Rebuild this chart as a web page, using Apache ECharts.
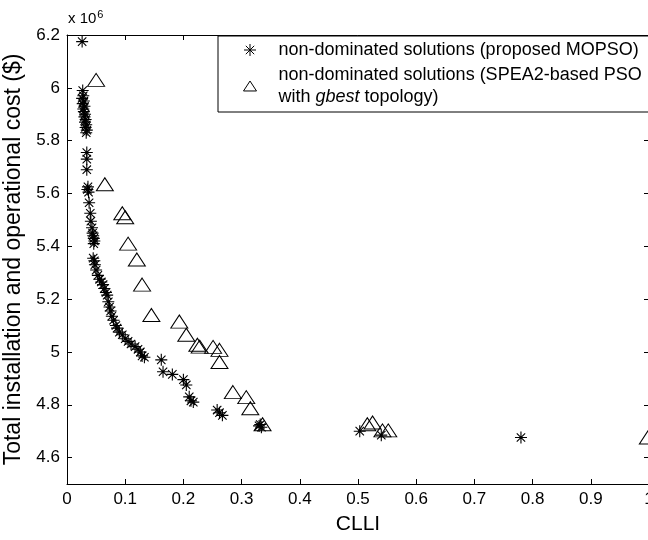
<!DOCTYPE html>
<html>
<head>
<meta charset="utf-8">
<script src="https://cdn.jsdelivr.net/npm/echarts@6/dist/echarts.min.js"></script>
<style>
html,body{margin:0;padding:0;background:#fff;overflow:hidden;}
#chart{width:648px;height:540px;}
</style>
</head>
<body>
<div id="chart"></div>
<script>
// CLLI vs total cost (cost in units of 10^6 $)
var mopsoCLLI = [0.026,0.027,0.028,0.026,0.029,0.027,0.030,0.028,0.029,0.031,0.030,0.032,0.031,0.033,0.032,0.034,0.033,
  0.034,0.034,0.034,0.036,0.035,0.037,0.038,0.040,0.041,0.043,0.044,0.045,0.046,0.047,0.046,
  0.045,0.047,0.048,0.050,0.053,0.056,0.059,0.062,0.064,0.067,0.069,0.071,0.073,0.075,0.077,0.080,0.084,0.086,0.090,0.095,0.100,0.105,0.110,0.117,0.122,0.126,0.129,0.133,
  0.162,0.165,0.181,0.200,0.205,0.210,0.213,0.217,0.258,0.262,0.267,0.332,0.334,0.330,0.503,0.540,0.780];
var mopsoCost = [6.175,5.99,5.97,5.96,5.95,5.94,5.93,5.92,5.91,5.90,5.89,5.88,5.87,5.86,5.85,5.84,5.83,
  5.755,5.73,5.69,5.625,5.615,5.605,5.565,5.525,5.495,5.47,5.45,5.44,5.43,5.42,5.41,
  5.355,5.345,5.33,5.31,5.29,5.275,5.265,5.255,5.24,5.225,5.215,5.19,5.17,5.155,5.135,5.12,5.10,5.09,5.075,5.065,5.05,5.04,5.03,5.02,5.01,5.00,4.985,4.98,
  4.97,4.925,4.915,4.895,4.875,4.83,4.815,4.81,4.78,4.77,4.76,4.725,4.715,4.72,4.70,4.685,4.676];
var speaCLLI = [0.050,0.065,0.095,0.100,0.105,0.120,0.129,0.145,0.193,0.205,0.224,0.228,0.251,0.262,0.262,0.285,0.308,0.315,0.336,0.516,0.525,0.542,0.552,0.998];
var speaCost = [6.03,5.635,5.525,5.51,5.41,5.35,5.255,5.14,5.115,5.065,5.027,5.02,5.019,5.008,4.962,4.848,4.829,4.787,4.726,4.726,4.733,4.703,4.703,4.676];
var yTicks = [4.6,4.8,5.0,5.2,5.4,5.6,5.8,6.0,6.2];
var seriesNames = ['non-dominated solutions (proposed MOPSO)', 'non-dominated solutions (SPEA2-based PSO\nwith {i|gbest} topology)'];

function pairs(xs, ys){ return xs.map(function(x,i){ return [x, ys[i]]; }); }

var starPath = 'path://M10,0L10,20M0,10L20,10M3,3L17,17M3,17L17,3';
var triPath = 'path://M8.5,0L17,13L0,13Z';
var font = 'Liberation Sans, Arial, Helvetica, sans-serif';

var chart = echarts.init(document.getElementById('chart'), null, {renderer:'canvas'});
chart.setOption({
  animation:false,
  backgroundColor:'#fff',
  textStyle:{fontFamily:font},
  grid:{left:67, right:-1, top:35, bottom:56, containLabel:false, outerBoundsMode:'none'},
  legend:{
    orient:'vertical', left:218, top:36,
    padding:[3,40,4,25], itemGap:3,
    itemWidth:13, itemHeight:12, symbolKeepAspect:true,
    backgroundColor:'#fff', borderColor:'#000', borderWidth:1,
    formatter:function(n){ return '{g| }' + n.replace('\n', '\n{g| }'); },
    textStyle:{fontFamily:font, fontSize:18, color:'#000', lineHeight:22,
      rich:{
        g:{width:17, fontSize:18, lineHeight:22},
        i:{fontStyle:'italic', fontFamily:font, fontSize:18, color:'#000', lineHeight:22}
      }},
    data:[
      {name:seriesNames[0], icon:starPath, itemStyle:{color:'transparent', borderColor:'#000', borderWidth:1}},
      {name:seriesNames[1], icon:triPath, itemStyle:{color:'transparent', borderColor:'#000', borderWidth:1}}
    ]
  },
  xAxis:[{
    type:'value', min:0, max:1, interval:0.1,
    name:'CLLI', nameLocation:'middle', nameGap:30,
    nameTextStyle:{fontSize:21, color:'#000', fontFamily:font},
    axisLine:{show:true, lineStyle:{color:'#000', width:1}},
    axisTick:{show:true, inside:true, length:5, lineStyle:{color:'#000'}},
    axisLabel:{color:'#000', fontSize:17, margin:7, fontFamily:font},
    splitLine:{show:false}
  },{
    type:'value', position:'top', min:0, max:1, interval:0.1,
    axisLine:{show:true, onZero:false, lineStyle:{color:'#000', width:1}},
    axisTick:{show:true, inside:true, length:5, lineStyle:{color:'#000'}},
    axisLabel:{show:false}, splitLine:{show:false}
  }],
  yAxis:[{
    type:'value', min:4.5, max:6.2,
    name:'Total installation and operational cost ($)', nameLocation:'middle', nameGap:34,
    nameTextStyle:{fontSize:23, color:'#000', fontFamily:font},
    axisLine:{show:true, lineStyle:{color:'#000', width:1}},
    axisTick:{show:true, inside:true, length:5, customValues:yTicks, lineStyle:{color:'#000'}},
    axisLabel:{color:'#000', fontSize:17, margin:7, fontFamily:font, customValues:yTicks,
      formatter:function(v){ return String(+(+v).toFixed(1)); }},
    splitLine:{show:false}
  },{
    type:'value', position:'right', min:4.5, max:6.2,
    axisLine:{show:true, onZero:false, lineStyle:{color:'#000', width:1}},
    axisTick:{show:true, inside:true, length:5, customValues:yTicks, lineStyle:{color:'#000'}},
    axisLabel:{show:false, customValues:yTicks}, splitLine:{show:false}
  }],
  graphic:[{
    type:'text', left:68, top:9,
    style:{text:'x 10{s|6}', fontSize:15, fontFamily:font, fill:'#000',
      rich:{s:{fontSize:11, fontFamily:font, fill:'#000', verticalAlign:'top', padding:[0,0,8,1]}}}
  }],
  series:[{
    name:seriesNames[0], type:'scatter', data:pairs(mopsoCLLI, mopsoCost),
    symbol:starPath, symbolSize:12,
    itemStyle:{color:'transparent', borderColor:'#000', borderWidth:1.1, opacity:1},
    emphasis:{disabled:true}
  },{
    name:seriesNames[1], type:'scatter', data:pairs(speaCLLI, speaCost),
    symbol:triPath, symbolSize:[17,13],
    itemStyle:{color:'transparent', borderColor:'#000', borderWidth:1, opacity:1},
    emphasis:{disabled:true}
  }]
});
</script>
</body>
</html>
